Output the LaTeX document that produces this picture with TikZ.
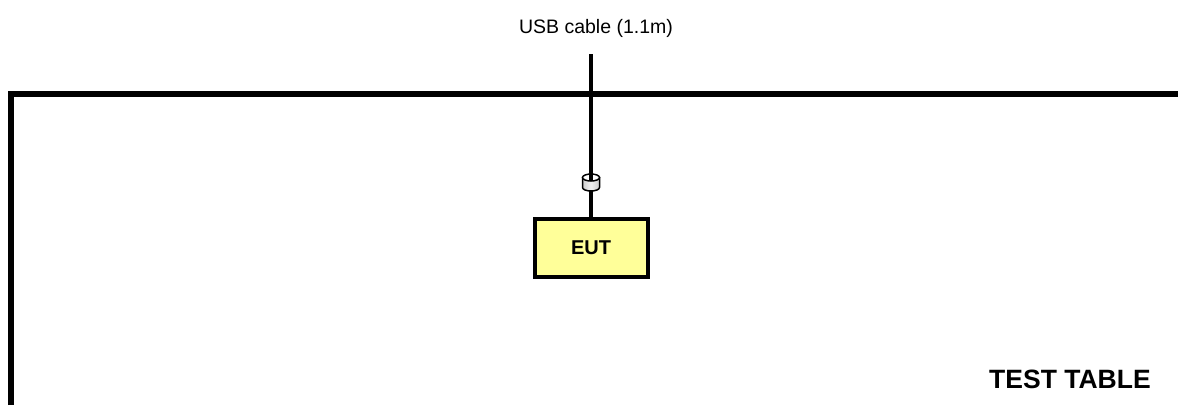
\documentclass[tikz,border=0pt]{standalone}
\usepackage{fontspec}
\setmainfont{Liberation Sans}
\definecolor{euty}{HTML}{FFFF99}
\tikzset{
  table/.style={line width=6pt, line cap=butt, line join=miter},
  cable/.style={line width=3.8pt},
  eutbox/.style={draw, line width=4pt, fill=euty, minimum width=113pt, minimum height=58pt, inner sep=0pt, font=\fontsize{20}{22}\selectfont\bfseries},
  plugbody/.style={draw, line width=1.5pt, left color=gray!40, right color=gray!40, middle color=gray!10},
  plugend/.style={draw, line width=1.5pt, fill=white},
  lbl/.style={inner sep=0pt, font=\fontsize{19.5}{22}\selectfont},
  tlbl/.style={inner sep=0pt, font=\fontsize{26.5}{28}\selectfont\bfseries}
}
\begin{document}
\begin{tikzpicture}[x=1pt,y=-1pt]
\useasboundingbox (0,0) rectangle (1178,405);
% test table
\coordinate (tl) at (11,94);
\coordinate (tr) at (1178,94);
\coordinate (bl) at (11,405);
\draw[table] (bl) -- (tl) -- (tr);
% label
\node[lbl, anchor=base] (usb) at (596,33) {USB cable (1.1m)};
\coordinate (ctop) at (591,54);
% plug
\coordinate (ptop) at (591,177.5);
\coordinate (pbot) at (591,191);
\draw[plugbody] (582.5,177.5) -- (582.5,187.5) arc[start angle=180, end angle=360, x radius=8.5, y radius=-3.5] -- (599.5,177.5) -- cycle;
\draw[plugend] (ptop) ellipse[x radius=8.5, y radius=3.5];
\node[eutbox] (eut) at (591,248) {EUT};
\draw[cable] (ctop) -- ([yshift=-3.5pt]ptop);
\draw[cable] (pbot) -- (eut.north);
\node[tlbl, anchor=base west] (tt) at (989,388) {TEST TABLE};
\end{tikzpicture}
\end{document}
